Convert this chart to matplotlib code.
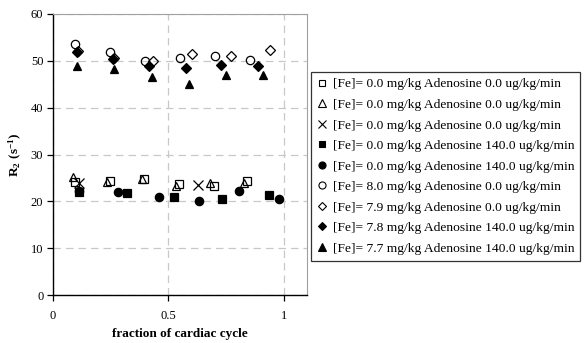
import matplotlib
matplotlib.use("Agg")
import matplotlib.pyplot as plt
from matplotlib.lines import Line2D

plt.rcParams['font.family'] = ['Liberation Serif', 'DejaVu Serif']
plt.rcParams['mathtext.fontset'] = 'custom'
plt.rcParams['mathtext.rm'] = 'Liberation Serif'
plt.rcParams['mathtext.bf'] = 'Liberation Serif:bold'

labels = [
    "[Fe]= 0.0 mg/kg Adenosine 0.0 ug/kg/min",
    "[Fe]= 0.0 mg/kg Adenosine 0.0 ug/kg/min",
    "[Fe]= 0.0 mg/kg Adenosine 0.0 ug/kg/min",
    "[Fe]= 0.0 mg/kg Adenosine 140.0 ug/kg/min",
    "[Fe]= 0.0 mg/kg Adenosine 140.0 ug/kg/min",
    "[Fe]= 8.0 mg/kg Adenosine 0.0 ug/kg/min",
    "[Fe]= 7.9 mg/kg Adenosine 0.0 ug/kg/min",
    "[Fe]= 7.8 mg/kg Adenosine 140.0 ug/kg/min",
    "[Fe]= 7.7 mg/kg Adenosine 140.0 ug/kg/min",
]

sq_open_x = [0.095, 0.247, 0.396, 0.544, 0.696, 0.840]
sq_open_y = [24.2, 24.3, 24.7, 23.6, 23.3, 24.4]
tri_open_x = [0.085, 0.236, 0.385, 0.532, 0.678, 0.829]
tri_open_y = [25.1, 24.2, 24.7, 23.3, 24.0, 24.0]
x_mark_x = [0.114, 0.628]
x_mark_y = [24.0, 23.5]
sq_fill_x = [0.114, 0.320, 0.526, 0.732, 0.937]
sq_fill_y = [21.9, 21.7, 20.9, 20.4, 21.4]
circ_fill_x = [0.114, 0.283, 0.457, 0.633, 0.804, 0.980]
circ_fill_y = [22.3, 21.9, 21.0, 20.1, 22.1, 20.5]
circ_open_x = [0.095, 0.247, 0.399, 0.551, 0.700, 0.855]
circ_open_y = [53.6, 51.8, 50.0, 50.7, 51.1, 50.2]
dia_open_x = [0.110, 0.265, 0.435, 0.604, 0.772, 0.941]
dia_open_y = [52.0, 50.7, 50.0, 51.4, 51.1, 52.3]
dia_fill_x = [0.103, 0.262, 0.416, 0.576, 0.729, 0.888]
dia_fill_y = [51.8, 50.4, 48.8, 48.5, 49.2, 48.9]
tri_fill_x = [0.103, 0.266, 0.428, 0.587, 0.749, 0.908]
tri_fill_y = [49.0, 48.2, 46.5, 45.1, 47.0, 47.0]

fig = plt.figure(figsize=(5.85, 3.43), dpi=100)
ax = fig.add_axes([53/585, 48/343, (307-53)/585, (295-14)/343])

series = [
    (sq_open_x, sq_open_y, 's', 'none', 5.5),
    (tri_open_x, tri_open_y, '^', 'none', 6),
    (x_mark_x, x_mark_y, 'x', 'black', 6.5),
    (sq_fill_x, sq_fill_y, 's', 'black', 5.5),
    (circ_fill_x, circ_fill_y, 'o', 'black', 6),
    (circ_open_x, circ_open_y, 'o', 'none', 6),
    (dia_open_x, dia_open_y, 'D', 'none', 5),
    (dia_fill_x, dia_fill_y, 'D', 'black', 5),
    (tri_fill_x, tri_fill_y, '^', 'black', 6),
]
handles = []
for (xs, ys, m, fc, ms), lab in zip(series, labels):
    ax.plot(xs, ys, linestyle='none', marker=m, markerfacecolor=fc,
            markeredgecolor='black', markersize=ms, markeredgewidth=0.9,
            zorder=3)
    handles.append(Line2D([], [], linestyle='none', marker=m, markerfacecolor=fc,
                          markeredgecolor='black', markersize=ms*0.85,
                          markeredgewidth=0.8, label=lab))

ax.set_xlim(0, 1.1)
ax.set_ylim(0, 60)
ax.set_xticks([0, 0.5, 1])
ax.set_xticklabels(['0', '0.5', '1'])
ax.set_yticks(range(0, 61, 10))
ax.grid(True, color='#c8c8c8', linestyle=(0, (6, 4)), linewidth=0.9)
for s in ['top', 'right']:
    ax.spines[s].set_color('#a0a0a0')
for s in ['left', 'bottom']:
    ax.spines[s].set_color('black')
    ax.spines[s].set_linewidth(1.0)
ax.tick_params(direction='out', length=4, width=0.9, labelsize=9, pad=3)
ax.tick_params(axis='x', pad=7)
ax.set_xlabel('fraction of cardiac cycle', fontsize=9.5, fontweight='bold', labelpad=4)
ax.set_ylabel(r'$\mathbf{R}_{\mathbf{2}}\ \mathbf{(s^{-1})}$', fontsize=9.5, labelpad=5)

leg = fig.legend(handles=handles, loc='upper left',
                 bbox_to_anchor=(311/585, 1 - 72/343),
                 frameon=True, fancybox=False, shadow=False,
                 fontsize=9.7, handlelength=0.8, handletextpad=0.35,
                 labelspacing=0.6, borderpad=0.45, borderaxespad=0)
leg.get_frame().set_edgecolor('black')
leg.get_frame().set_linewidth(0.9)

fig.savefig('out.png', dpi=100)
